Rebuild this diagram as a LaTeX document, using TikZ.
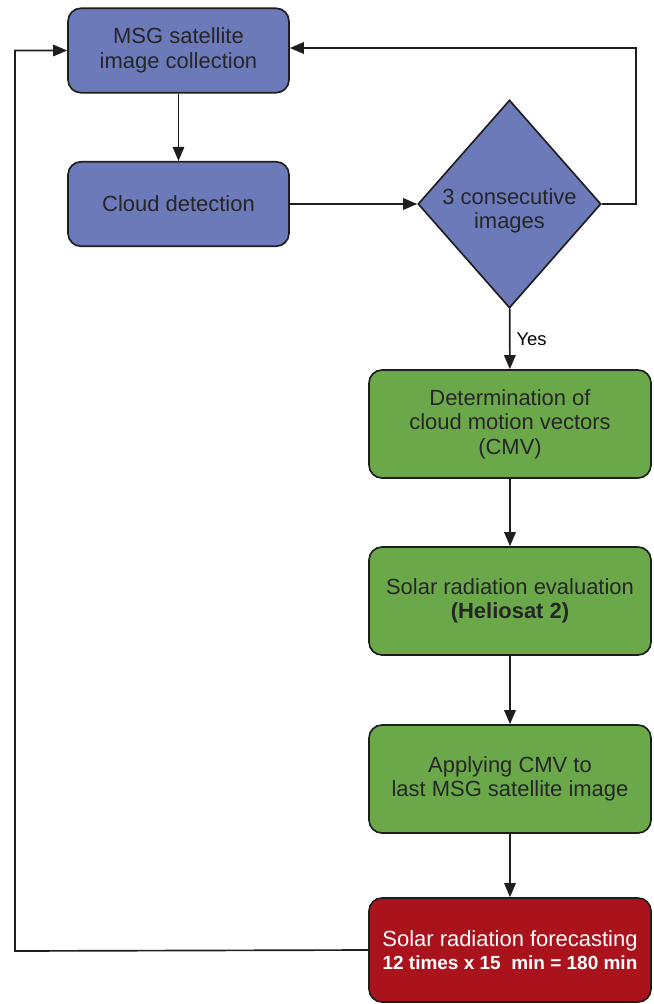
\documentclass[tikz,border=0pt]{standalone}
\usepackage{fontspec}
\setmainfont{Liberation Sans}
\usepackage{xcolor}
\usepackage{tikz}
\usetikzlibrary{arrows.meta, positioning, shapes.geometric}
\definecolor{msgblue}{RGB}{108,122,186}
\definecolor{cmvgreen}{RGB}{106,168,74}
\definecolor{forered}{RGB}{170,18,28}
\definecolor{edgegray}{RGB}{30,30,30}

\begin{document}
\begin{tikzpicture}[
  font=\fontsize{12.5}{14}\selectfont,
  >={Triangle[length=2.8mm, width=2.3mm]},
  link/.style={draw=edgegray, line width=0.95pt},
  stepbox/.style={rectangle, rounded corners=2.6mm, draw=edgegray, line width=0.95pt,
    align=center, inner sep=2pt, text=black!85},
  bluebox/.style={stepbox, fill=msgblue, minimum width=4.42cm, minimum height=1.69cm},
  greenbox/.style={stepbox, fill=cmvgreen, minimum width=5.64cm, minimum height=2.16cm},
  redbox/.style={stepbox, fill=forered, minimum width=5.64cm, minimum height=2.08cm, text=white},
  decide/.style={diamond, draw=edgegray, line width=0.95pt, fill=msgblue, inner sep=0pt,
    minimum width=3.66cm, minimum height=4.16cm}
]
  \useasboundingbox (0,0) rectangle (13.08,-20.08);

  % left column
  \node[bluebox] (msg) at (3.57,-1.01) {MSG satellite\\image collection};
  \node[bluebox] (cloud) at (3.57,-4.08) {Cloud detection};
  \node[decide, label={[align=center, text=black!85, yshift=-0.14cm]center:3 consecutive\\images}]
    (consec) at (10.19,-4.08) {};

  % right column
  \node[greenbox] (cmv) at (10.2,-8.48) {Determination of\\cloud motion vectors\\(CMV)};
  \node[greenbox] (helio) at (10.2,-12.02) {Solar radiation evaluation\\\textbf{(Heliosat 2)}};
  \node[greenbox] (apply) at (10.2,-15.58) {Applying CMV to\\last MSG satellite image};
  \node[redbox] (fore) at (10.2,-19.0)
    {Solar radiation forecasting\\[-1pt]{\fontsize{10.8}{13}\selectfont\bfseries 12 times x 15~ min = 180 min}};

  \draw[link, ->] (msg) -- (cloud);
  \draw[link, ->] (cloud) -- (consec);
  \draw[link, ->] (consec.east) -- (12.72,-4.08) |- ([yshift=0.05cm]msg.east);
  \draw[link, ->] (consec) -- node[right, pos=0.5, font=\fontsize{10.5}{12}\selectfont] {Yes} (cmv);
  \draw[link, ->] (cmv) -- (helio);
  \draw[link, ->] (helio) -- (apply);
  \draw[link, ->] (apply) -- (fore);
  \draw[link, ->] (fore.west) -- (0.30,-19.02) |- (msg.west);
\end{tikzpicture}
\end{document}
